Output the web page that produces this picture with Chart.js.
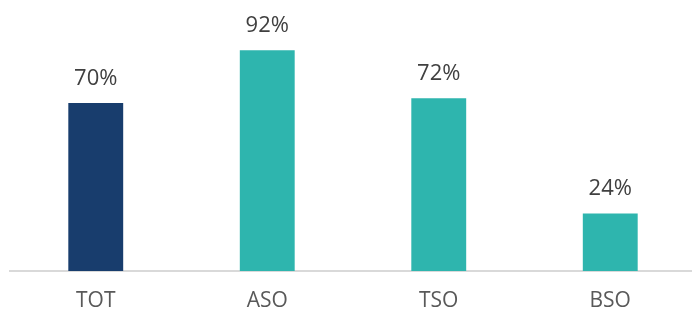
<!DOCTYPE html>
<html>
<head>
<meta charset="utf-8">
<script src="https://cdn.jsdelivr.net/npm/chart.js@4/dist/chart.umd.min.js"></script>
<style>
  html, body { margin: 0; padding: 0; background: #fff; overflow: hidden; }
  #wrap { width: 692px; height: 312px; overflow: hidden; }
</style>
</head>
<body>
<div id="wrap"><canvas id="chart" width="696" height="332"></canvas></div>
<script>
const categories = ["TOT", "ASO", "TSO", "BSO"];
const values = [70, 92, 72, 24];
const barColors = ["#183d6d", "#2eb5ae", "#2eb5ae", "#2eb5ae"];

const fontFamily = "'Open Sans', 'Noto Sans', sans-serif";

// draws the percentage above each bar
const valueLabels = {
  id: "valueLabels",
  afterDatasetsDraw(chart) {
    const ctx = chart.ctx;
    const meta = chart.getDatasetMeta(0);
    ctx.save();
    ctx.font = `22px ${fontFamily}`;
    ctx.fillStyle = "#404040";
    ctx.textAlign = "center";
    ctx.textBaseline = "alphabetic";
    meta.data.forEach((bar, i) => {
      ctx.fillText(`${values[i]}%`, bar.x, bar.y - 18);
    });
    ctx.restore();
  },
};

new Chart(document.getElementById("chart"), {
  type: "bar",
  data: {
    labels: categories,
    datasets: [
      {
        data: values,
        backgroundColor: barColors,
        borderWidth: 0,
        barPercentage: 0.32,
        categoryPercentage: 1,
      },
    ],
  },
  options: {
    responsive: false,
    animation: false,
    layout: { padding: { left: 10, right: 0, top: 31, bottom: 0 } },
    plugins: {
      legend: { display: false },
      tooltip: { enabled: false },
    },
    scales: {
      x: {
        grid: { display: false, drawTicks: false },
        border: { display: true, color: "#d9d9d9", width: 2 },
        ticks: {
          color: "#595959",
          padding: 20,
          font: { family: fontFamily, size: 21, lineHeight: 1 },
        },
      },
      y: { display: false, min: 0, max: 100 },
    },
  },
  plugins: [valueLabels],
});
</script>
</body>
</html>
